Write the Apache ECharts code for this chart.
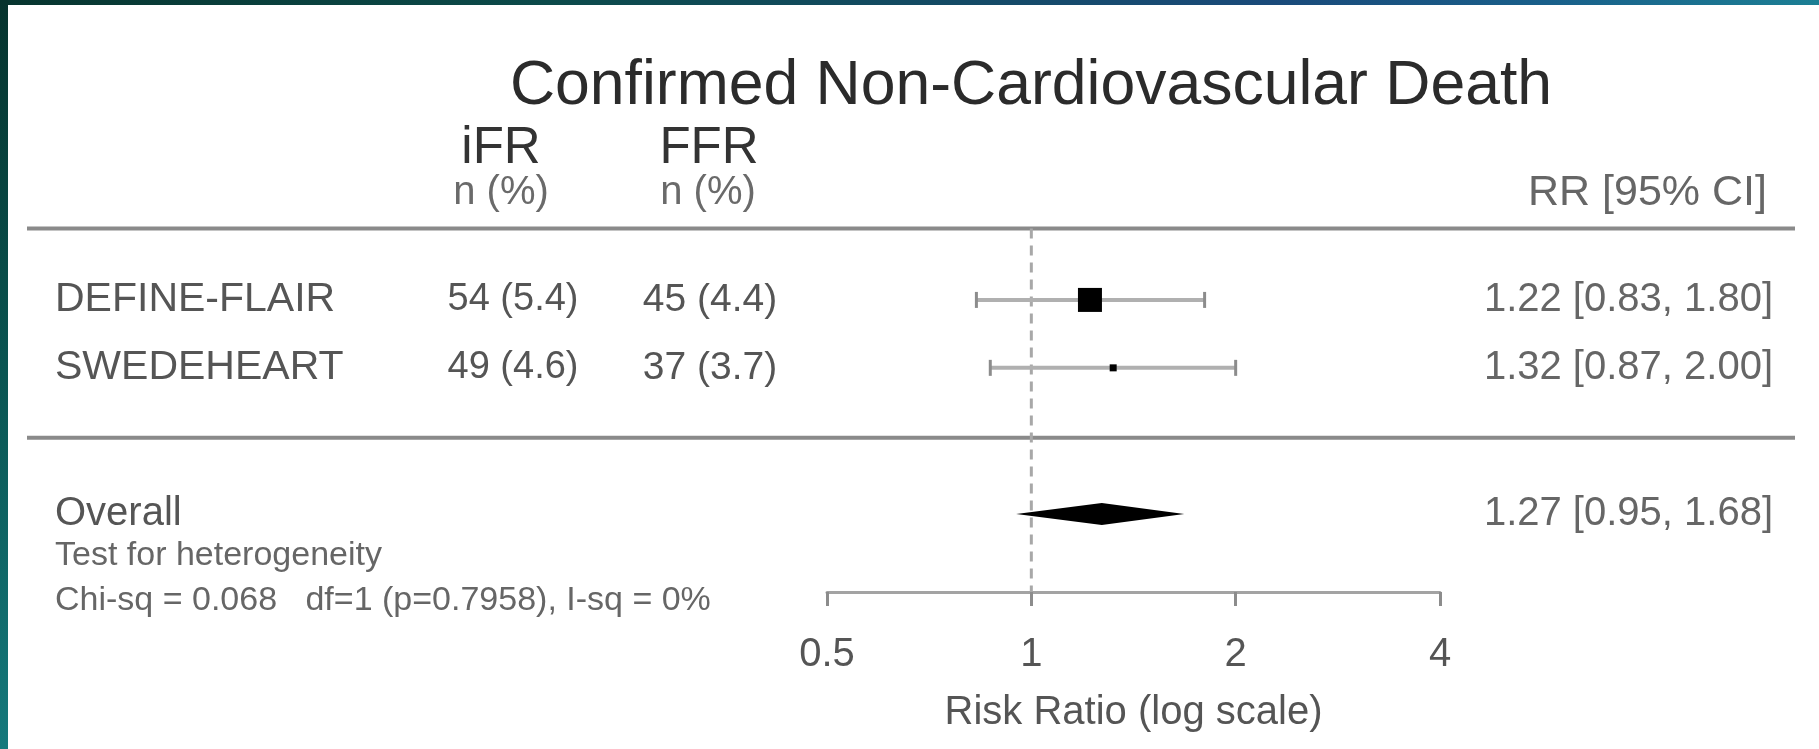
<!DOCTYPE html>
<html>
<head>
<meta charset="utf-8">
<title>Confirmed Non-Cardiovascular Death</title>
<script src="https://cdn.jsdelivr.net/npm/echarts@6/dist/echarts.min.js"></script>
<style>
  html, body { margin: 0; padding: 0; background: #fff; }
  #chart { width: 1819px; height: 749px; }
</style>
</head>
<body>
<div id="chart"></div>
<script>
// studies and event counts, n (%)
const studies = ['DEFINE-FLAIR', 'SWEDEHEART'];
const ifrEvents = ['54 (5.4)', '49 (4.6)'];
const ffrEvents = ['45 (4.4)', '37 (3.7)'];
// risk ratio with 95% CI per study
const rr = [1.22, 1.32];
const ciLow = [0.83, 0.87];
const ciHigh = [1.80, 2.00];
// pooled estimate
const overallRR = 1.27;
const overallLow = 0.95;
const overallHigh = 1.68;
// axis ticks
const xTicks = [0.5, 1, 2, 4];
const hetLines = ['Test for heterogeneity', 'Chi-sq = 0.068   df=1 (p=0.7958), I-sq = 0%'];

// layout
const FONT = '"Liberation Sans", Arial, Helvetica, sans-serif';
const Y_MIN = -2.3, Y_MAX = 3;
const rowY = studies.map((s, i) => studies.length - i); // 2, 1
const overallY = -1.15;
const hetY = [-1.77, -2.42];
const sepY = [3.05, -0.03];
const boxPx = [24, 7];

const fmt = v => v.toFixed(2);
const rrText = (e, l, h) => fmt(e) + ' [' + fmt(l) + ', ' + fmt(h) + ']';

// text element, works for graphic and custom series
function txt(str, x, y, size, align, color) {
  return {
    type: 'text', x: x, y: y, silent: true,
    style: {
      text: str, fill: color, textFill: color,
      font: size + 'px ' + FONT,
      align: align, textAlign: align,
      verticalAlign: 'middle', textVerticalAlign: 'middle'
    }
  };
}

const chart = echarts.init(document.getElementById('chart'));

const option = {
  animation: false,
  backgroundColor: '#fff',
  grid: { left: 827, top: 232, width: 613, height: 360, outerBoundsMode: 'none' },
  xAxis: {
    type: 'log', logBase: 2, min: xTicks[0], max: xTicks[xTicks.length - 1],
    axisLine: { show: true, onZero: false, lineStyle: { color: '#a3a3a3', width: 3 } },
    axisTick: { show: true, length: 14, lineStyle: { color: '#8c8c8c', width: 3 } },
    axisLabel: {
      fontSize: 40, fontFamily: FONT, color: '#555', margin: 43,
      showMinLabel: true, showMaxLabel: true,
      formatter: v => String(+(+v).toFixed(2))
    },
    splitLine: { show: false },
    minorTick: { show: false },
    name: 'Risk Ratio (log scale)', nameLocation: 'middle', nameGap: 101,
    nameTextStyle: { fontSize: 40, fontFamily: FONT, color: '#555' }
  },
  yAxis: { type: 'value', min: Y_MIN, max: Y_MAX, show: false },
  graphic: [
    // frame strips
    {
      type: 'rect', shape: { x: 0, y: 0, width: 1819, height: 5 }, silent: true,
      style: { fill: new echarts.graphic.LinearGradient(0, 0, 1, 0, [
        { offset: 0, color: '#07352f' }, { offset: 0.3, color: '#0c4a4a' },
        { offset: 0.7, color: '#1a4a7a' }, { offset: 0.85, color: '#195f8a' },
        { offset: 1, color: '#1c7f94' }]) }
    },
    {
      type: 'rect', shape: { x: 0, y: 0, width: 8, height: 749 }, silent: true,
      style: { fill: new echarts.graphic.LinearGradient(0, 0, 0, 1, [
        { offset: 0, color: '#06332d' }, { offset: 0.5, color: '#0a5552' },
        { offset: 1, color: '#15797c' }]) }
    },
    txt('Confirmed Non-Cardiovascular Death', 1031, 87, 62.5, 'center', '#2b2b2b'),
    txt('iFR', 501, 149, 51, 'center', '#333'),
    txt('FFR', 709, 149, 51, 'center', '#333'),
    txt('n (%)', 501, 193, 40, 'center', '#6a6a6a'),
    txt('n (%)', 708, 193, 40, 'center', '#6a6a6a'),
    txt('RR [95% CI]', 1767, 193, 43, 'right', '#666')
  ],
  series: [
    {
      // separator lines
      type: 'custom', clip: false, silent: true,
      data: sepY.map(v => [1, v]),
      renderItem: (params, api) => {
        const y = api.coord([1, api.value(1)])[1];
        return { type: 'line', shape: { x1: 27, y1: y, x2: 1795, y2: y },
          style: { stroke: '#8a8a8a', lineWidth: 4 } };
      }
    },
    {
      // reference line at RR = 1
      type: 'custom', clip: false, silent: true,
      data: [[1, sepY[0], Y_MIN]],
      renderItem: (params, api) => {
        const a = api.coord([api.value(0), api.value(1)]);
        const b = api.coord([api.value(0), api.value(2)]);
        return { type: 'line', shape: { x1: a[0], y1: a[1], x2: b[0], y2: b[1] },
          style: { stroke: '#a8a8a8', lineWidth: 3, lineDash: [10, 7] } };
      }
    },
    {
      // confidence intervals
      type: 'custom', clip: false, silent: true,
      data: studies.map((s, i) => [ciLow[i], ciHigh[i], rowY[i]]),
      encode: { x: [0, 1], y: 2 },
      renderItem: (params, api) => {
        const a = api.coord([api.value(0), api.value(2)]);
        const b = api.coord([api.value(1), api.value(2)]);
        return { type: 'group', children: [
          { type: 'line', shape: { x1: a[0], y1: a[1], x2: b[0], y2: b[1] },
            style: { stroke: '#b0b0b0', lineWidth: 4 } },
          { type: 'line', shape: { x1: a[0], y1: a[1] - 8, x2: a[0], y2: a[1] + 8 },
            style: { stroke: '#8c8c8c', lineWidth: 3 } },
          { type: 'line', shape: { x1: b[0], y1: b[1] - 8, x2: b[0], y2: b[1] + 8 },
            style: { stroke: '#8c8c8c', lineWidth: 3 } }
        ] };
      }
    },
    {
      // study boxes
      type: 'custom', clip: false, silent: true,
      data: studies.map((s, i) => [rr[i], rowY[i]]),
      renderItem: (params, api) => {
        const p = api.coord([api.value(0), api.value(1)]);
        const s = boxPx[params.dataIndex];
        return { type: 'rect', shape: { x: p[0] - s / 2, y: p[1] - s / 2, width: s, height: s },
          style: { fill: '#000' } };
      }
    },
    {
      // pooled diamond
      type: 'custom', clip: false, silent: true,
      data: [[overallLow, overallRR, overallHigh, overallY]],
      encode: { x: [0, 1, 2], y: 3 },
      renderItem: (params, api) => {
        const y = api.value(3);
        const l = api.coord([api.value(0), y]);
        const m = api.coord([api.value(1), y]);
        const r = api.coord([api.value(2), y]);
        const h = 11;
        return { type: 'polygon',
          shape: { points: [[l[0], l[1]], [m[0], m[1] - h], [r[0], r[1]], [m[0], m[1] + h]] },
          style: { fill: '#000' } };
      }
    },
    {
      // study rows text
      type: 'custom', clip: false, silent: true,
      data: studies.map((s, i) => [1, rowY[i]]),
      renderItem: (params, api) => {
        const i = params.dataIndex;
        const y = api.coord([1, api.value(1)])[1];
        return { type: 'group', children: [
          txt(studies[i], 55, y, 41, 'left', '#555'),
          txt(ifrEvents[i], 513, y, 38, 'center', '#555'),
          txt(ffrEvents[i], 710, y, 39, 'center', '#555'),
          txt(rrText(rr[i], ciLow[i], ciHigh[i]), 1773, y, 40, 'right', '#666')
        ] };
      }
    },
    {
      // overall row text and heterogeneity
      type: 'custom', clip: false, silent: true,
      data: [[1, overallY]],
      renderItem: (params, api) => {
        const y = api.coord([1, api.value(1)])[1];
        const hy = hetY.map(v => api.coord([1, v])[1]);
        return { type: 'group', children: [
          txt('Overall', 55, y, 40, 'left', '#555'),
          txt(rrText(overallRR, overallLow, overallHigh), 1773, y, 40, 'right', '#666'),
          txt(hetLines[0], 55, hy[0], 34, 'left', '#666'),
          txt(hetLines[1], 55, hy[1], 34, 'left', '#666')
        ] };
      }
    }
  ]
};

chart.setOption(option);
</script>
</body>
</html>
